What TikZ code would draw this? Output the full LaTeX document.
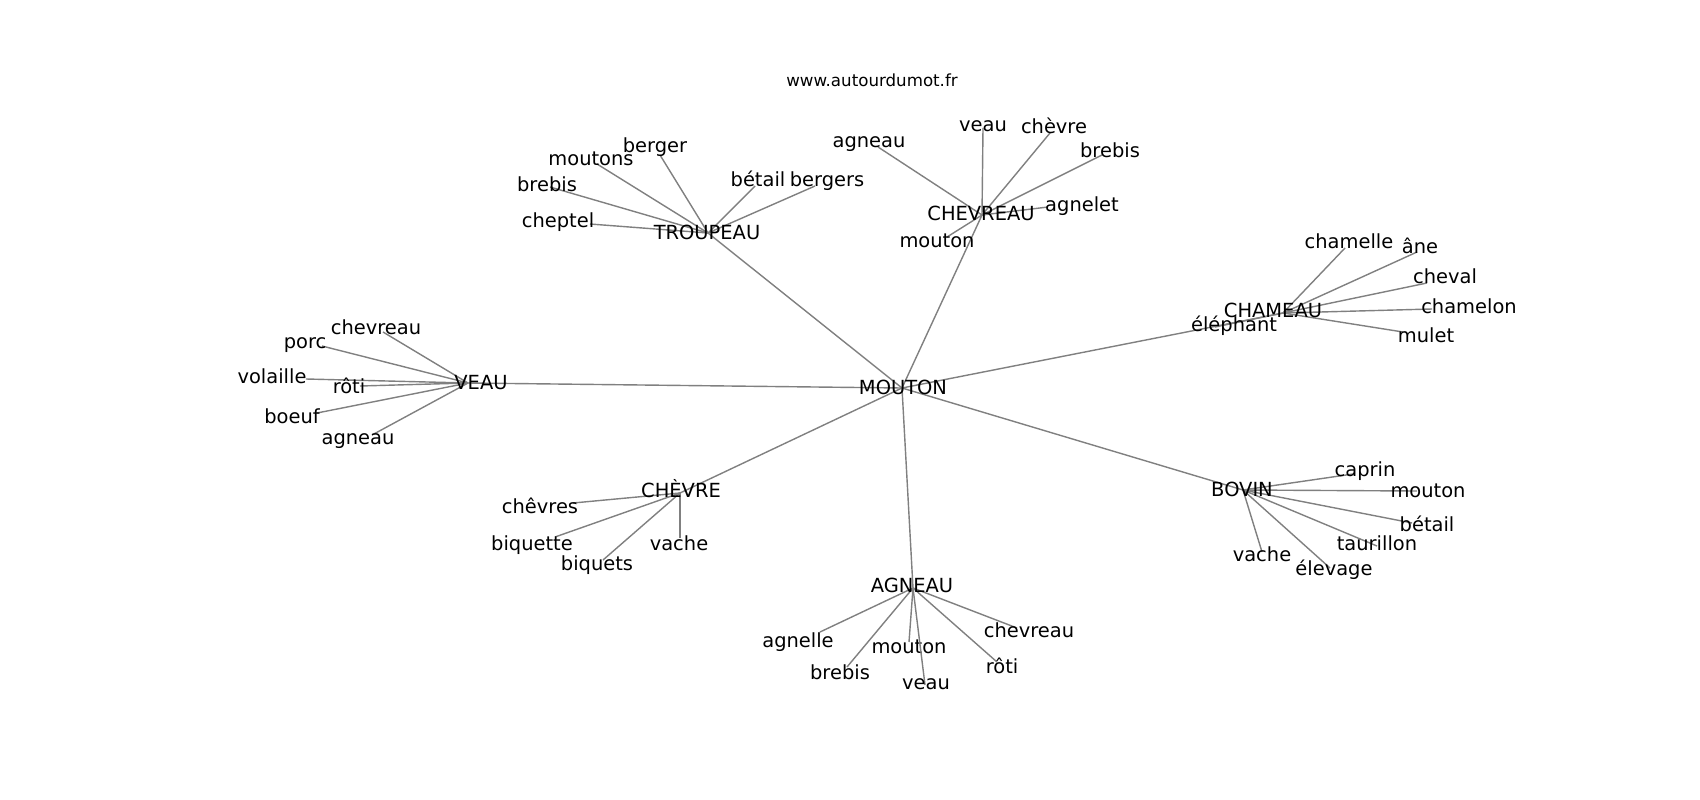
\documentclass[tikz,border=0pt]{standalone}
\usepackage{fontspec}
\setmainfont{DejaVu Sans}
\begin{document}
\begin{tikzpicture}
  [x=0.01cm, y=-0.01cm,
   word/.style ={anchor=base, inner sep=0pt, font=\fontsize{5.53}{6}\selectfont},
   link/.style ={draw=gray, line width=0.4pt}]
  \useasboundingbox (0,0) rectangle (1700,800);
  \node[word, font=\fontsize{4.74}{5}\selectfont] (site) at (872,87) {www.autourdumot.fr};

  \coordinate (mouton) at (902,388);
  \coordinate (troupeau) at (708,233);
  \coordinate (chevreau) at (982,215);
  \coordinate (chameau) at (1283,313);
  \coordinate (veau) at (468,383);
  \coordinate (chevre) at (680,493);
  \coordinate (agneau) at (913,588);
  \coordinate (bovin) at (1243,490);

  \foreach \h in {troupeau,chevreau,chameau,veau,chevre,agneau,bovin}
    \draw[link] (mouton) to (\h);

  \foreach \w/\tx/\ty/\ex/\ey [count=\i] in {berger/655/152/660/155, moutons/591/165/597/164,
      brebis/547/191/550/187, cheptel/558/227/590/224, bétail/758/186/755/186, bergers/827/186/815/186}{
    \coordinate (troupeau-\i) at (\ex,\ey);
    \draw[link] (troupeau) to (troupeau-\i);
    \node[word] (troupeau-w\i) at (\tx,\ty) {\w};
  }
  \foreach \w/\tx/\ty/\ex/\ey [count=\i] in {agneau/869/147/878/147, veau/983/131/983/128,
      chèvre/1054/133/1050/133, brebis/1110/157/1102/155, agnelet/1082/211/1048/207, mouton/937/247/947/237}{
    \coordinate (chevreau-\i) at (\ex,\ey);
    \draw[link] (chevreau) to (chevreau-\i);
    \node[word] (chevreau-w\i) at (\tx,\ty) {\w};
  }
  \foreach \w/\tx/\ty/\ex/\ey [count=\i] in {chamelle/1349/248/1345/248, âne/1420/253/1417/252,
      cheval/1445/283/1427/283, chamelon/1469/313/1432/309, mulet/1426/342/1403/332, éléphant/1234/331/1215/327}{
    \coordinate (chameau-\i) at (\ex,\ey);
    \draw[link] (chameau) to (chameau-\i);
    \node[word] (chameau-w\i) at (\tx,\ty) {\w};
  }
  \foreach \w/\tx/\ty/\ex/\ey [count=\i] in {chevreau/376/334/383/332, porc/305/348/322/346,
      volaille/272/383/306/379, rôti/349/393/360/386, boeuf/292/423/317/413, agneau/358/444/372/435}{
    \coordinate (veau-\i) at (\ex,\ey);
    \draw[link] (veau) to (veau-\i);
    \node[word] (veau-w\i) at (\tx,\ty) {\w};
  }
  \foreach \w/\tx/\ty/\ex/\ey [count=\i] in {chêvres/540/513/573/503, biquette/532/550/555/537,
      biquets/597/570/603/560, vache/679/550/680/538}{
    \coordinate (chevre-\i) at (\ex,\ey);
    \draw[link] (chevre) to (chevre-\i);
    \node[word] (chevre-w\i) at (\tx,\ty) {\w};
  }
  \foreach \w/\tx/\ty/\ex/\ey [count=\i] in {agnelle/798/647/820/632, brebis/840/679/847/667,
      mouton/909/653/909/642, veau/926/689/925/685, chevreau/1029/637/1017/628, rôti/1002/673/997/662}{
    \coordinate (agneau-\i) at (\ex,\ey);
    \draw[link] (agneau) to (agneau-\i);
    \node[word] (agneau-w\i) at (\tx,\ty) {\w};
  }
  \foreach \w/\tx/\ty/\ex/\ey [count=\i] in {caprin/1365/476/1353/474, mouton/1428/497/1417/491,
      bétail/1427/531/1412/523, taurillon/1377/550/1377/546, vache/1262/561/1262/552, élevage/1334/575/1330/568}{
    \coordinate (bovin-\i) at (\ex,\ey);
    \draw[link] (bovin) to (bovin-\i);
    \node[word] (bovin-w\i) at (\tx,\ty) {\w};
  }

  \node[word] (mouton-w) at (903,394) {MOUTON};
  \node[word] (troupeau-w) at (707,239) {TROUPEAU};
  \node[word] (chevreau-w) at (981,220) {CHEVREAU};
  \node[word] (chameau-w) at (1273,317) {CHAMEAU};
  \node[word] (veau-w) at (481,389) {VEAU};
  \node[word] (chevre-w) at (681,497) {CHÈVRE};
  \node[word] (agneau-w) at (912,592) {AGNEAU};
  \node[word] (bovin-w) at (1242,496) {BOVIN};
\end{tikzpicture}
\end{document}
